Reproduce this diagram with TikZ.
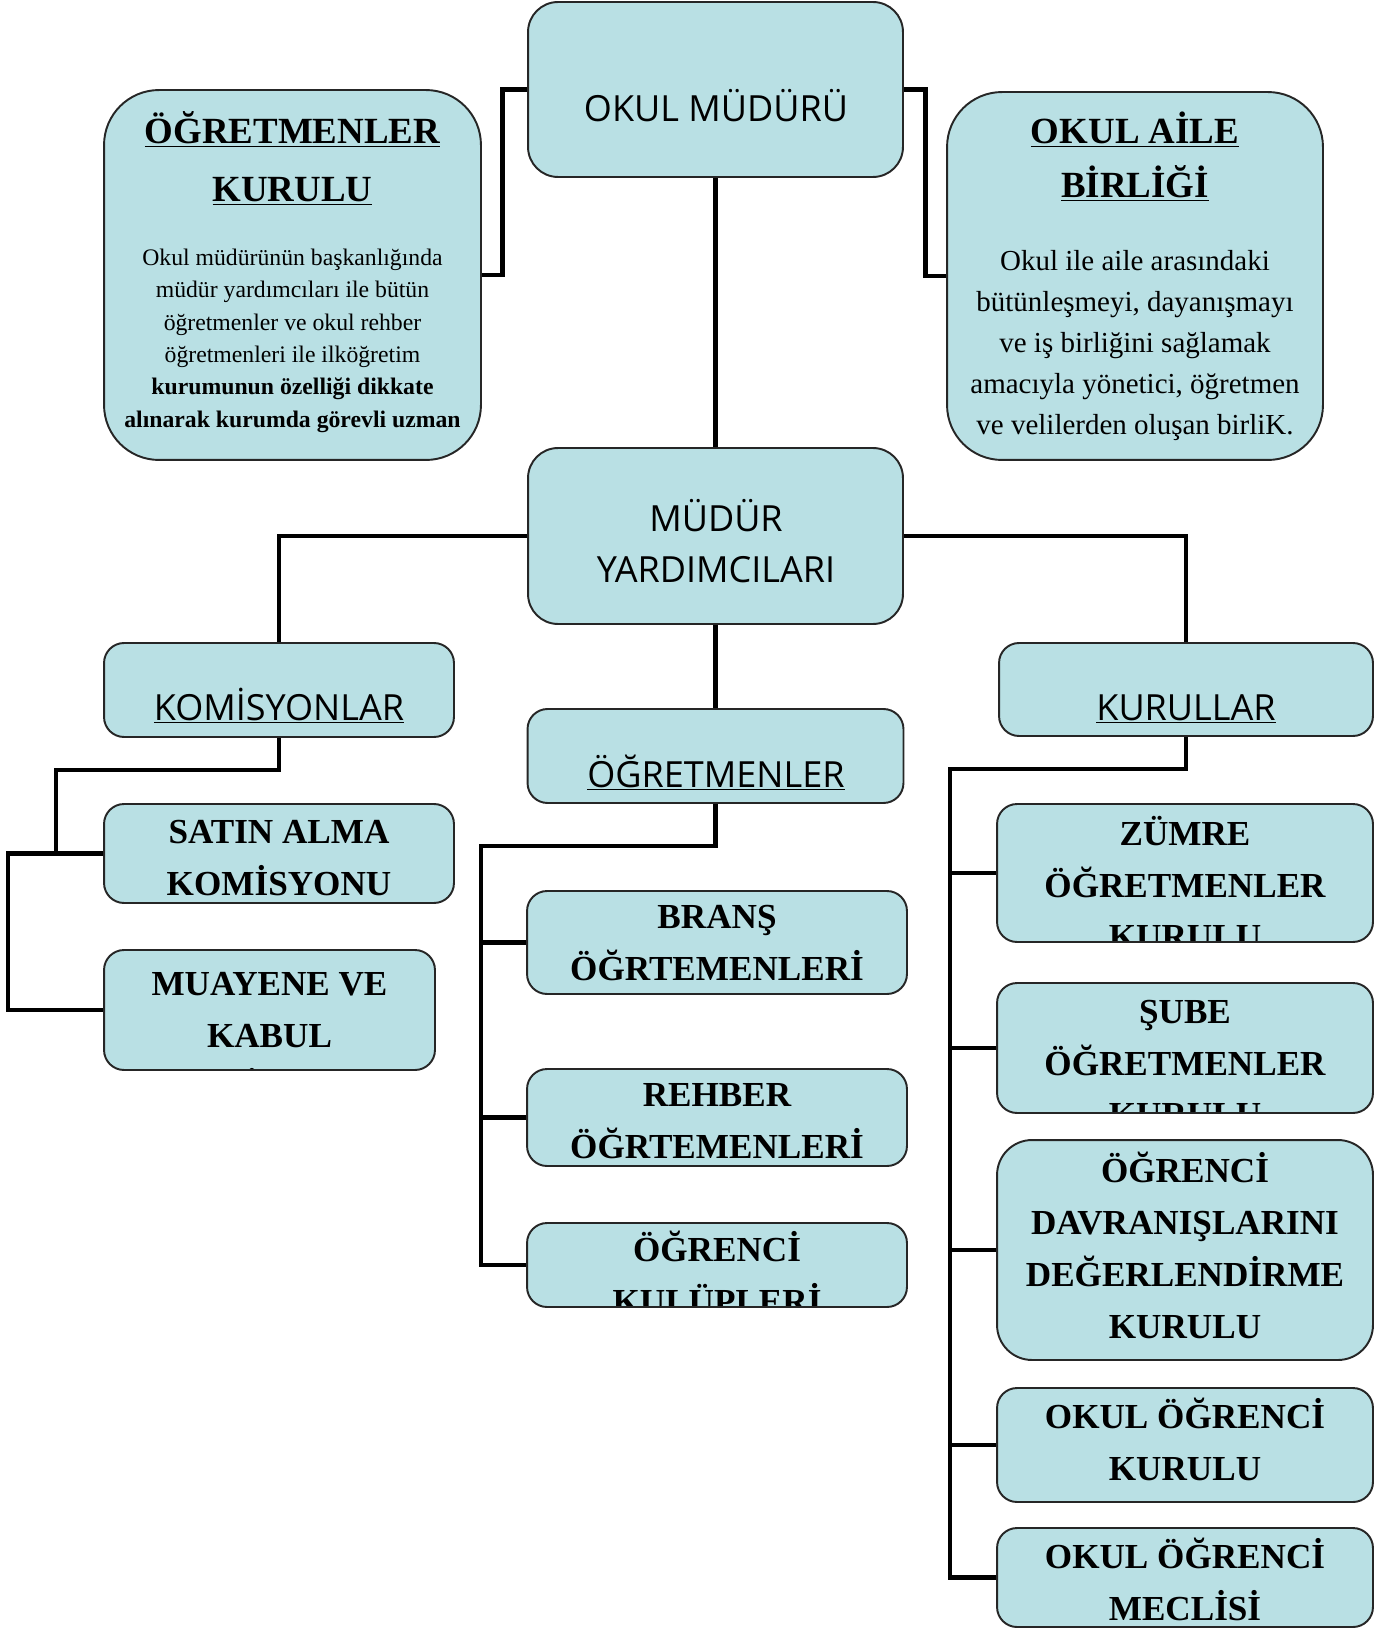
\documentclass[tikz,border=0pt]{standalone}
\usepackage{fontspec}
\setmainfont{Liberation Serif}
\newfontfamily\acikfont{Open Sans}
\definecolor{kutumavi}{RGB}{185,224,228}

\begin{document}
\begin{tikzpicture}[x=0.02cm, y=-0.02cm,
    kutu/.style={draw=black!85, fill=kutumavi, line width=1.1pt, inner sep=0pt, rounded corners=0.4cm},
    baglanti/.style={line width=2.8pt},
    ince/.style={font=\acikfont\fontsize{20.5}{29}\selectfont, align=center, inner sep=0pt, anchor=base},
    kalin/.style={font=\bfseries\fontsize{20}{29.5}\selectfont, align=center, inner sep=0pt, anchor=base}]
    \useasboundingbox (0,0) rectangle (1395,1628);

    % Top row (text nodes sit on the baseline of their last line)
    \node[kutu, rounded corners=0.6cm, minimum width=7.5cm, minimum height=3.5cm] (mudur) at (715.5,89.5) {};
    \node[ince] (mudur-t) at (716,122) {OKUL MÜDÜRÜ};

    \node[kutu, rounded corners=1.1cm, minimum width=7.54cm, minimum height=7.4cm] (ogrkurulu) at (292.5,275) {};
    \node[kalin, font=\bfseries\fontsize{21}{33.5}\selectfont] (ogrkurulu-t) at (292.5,202) {\underline{ÖĞRETMENLER}\\\underline{KURULU}};
    \node[anchor=base, align=center, inner sep=0pt, font=\fontsize{13.5}{18.4}\selectfont] (ogrkurulu-a) at (292.5,427)
        {Okul müdürünün başkanlığında\\müdür yardımcıları ile bütün\\öğretmenler ve okul rehber\\öğretmenleri ile ilköğretim\\
         \textbf{kurumunun özelliği dikkate}\\\textbf{alınarak kurumda görevli uzman}};

    \node[kutu, rounded corners=1.1cm, minimum width=7.52cm, minimum height=7.36cm] (aile) at (1135,276) {};
    \node[kalin, font=\bfseries\fontsize{21}{31.2}\selectfont] (aile-t) at (1135,198) {\underline{OKUL AİLE}\\\underline{BİRLİĞİ}};
    \node[anchor=base, align=center, inner sep=0pt, font=\fontsize{16.5}{23.4}\selectfont] (aile-a) at (1135,435)
        {Okul ile aile arasındaki\\bütünleşmeyi, dayanışmayı\\ve iş birliğini sağlamak\\amacıyla yönetici, öğretmen\\ve velilerden oluşan birliK.};

    % Middle row
    \node[kutu, rounded corners=0.6cm, minimum width=7.5cm, minimum height=3.52cm] (yardimci) at (715.5,536) {};
    \node[ince] (yardimci-t) at (716,582) {MÜDÜR\\YARDIMCILARI};

    \node[kutu, minimum width=7cm, minimum height=1.88cm] (komisyon) at (279,690) {};
    \node[ince] (komisyon-t) at (279,720) {\underline{KOMİSYONLAR}};

    \node[kutu, minimum width=7.52cm, minimum height=1.88cm] (ogretmen) at (715.5,756) {};
    \node[ince] (ogretmen-t) at (716,787) {\underline{ÖĞRETMENLER}};

    \node[kutu, minimum width=7.48cm, minimum height=1.86cm] (kurullar) at (1186,689.5) {};
    \node[ince] (kurullar-t) at (1186,720) {\underline{KURULLAR}};

    % Komisyonlar column
    \node[kutu, minimum width=7cm, minimum height=1.98cm] (satin) at (279,853.5) {};
    \node[kalin] (satin-t) at (279,895) {SATIN ALMA\\KOMİSYONU};

    \node[kutu, minimum width=6.62cm, minimum height=2.4cm,
        path picture={\node[kalin] (muayene-t) at ([yshift=-2.98cm]path picture bounding box.north) {MUAYENE VE\\KABUL\\KOMİSYONU};}] (muayene) at (269.5,1010) {};

    % Ogretmenler column
    \node[kutu, minimum width=7.6cm, minimum height=2.06cm] (brans) at (717,942.5) {};
    \node[kalin] (brans-t) at (717,980) {BRANŞ\\ÖĞRTEMENLERİ};

    \node[kutu, minimum width=7.6cm, minimum height=1.94cm] (rehber) at (717,1117.5) {};
    \node[kalin] (rehber-t) at (717,1158) {REHBER\\ÖĞRTEMENLERİ};

    \node[kutu, minimum width=7.6cm, minimum height=1.68cm,
        path picture={\node[kalin] (kulup-t) at ([yshift=-1.8cm]path picture bounding box.north) {ÖĞRENCİ\\KULÜPLERİ};}] (kulup) at (717,1265) {};

    % Kurullar column
    \node[kutu, minimum width=7.52cm, minimum height=2.76cm,
        path picture={\node[kalin] (zumre-t) at ([yshift=-2.9cm]path picture bounding box.north) {ZÜMRE\\ÖĞRETMENLER\\KURULU};}] (zumre) at (1185,873) {};

    \node[kutu, minimum width=7.52cm, minimum height=2.6cm,
        path picture={\node[kalin] (sube-t) at ([yshift=-2.88cm]path picture bounding box.north) {ŞUBE\\ÖĞRETMENLER\\KURULU};}] (sube) at (1185,1048) {};

    \node[kutu, rounded corners=0.7cm, minimum width=7.52cm, minimum height=4.4cm] (davranis) at (1185,1250) {};
    \node[kalin] (davranis-t) at (1185,1338) {ÖĞRENCİ\\DAVRANIŞLARINI\\DEĞERLENDİRME\\KURULU};

    \node[kutu, minimum width=7.52cm, minimum height=2.28cm] (okulkurul) at (1185,1445) {};
    \node[kalin] (okulkurul-t) at (1185,1480) {OKUL ÖĞRENCİ\\KURULU};

    \node[kutu, minimum width=7.52cm, minimum height=1.98cm] (meclis) at (1185,1577.5) {};
    \node[kalin] (meclis-t) at (1185,1620) {OKUL ÖĞRENCİ\\MECLİSİ};

    % Connectors
    \coordinate (ko-kol) at (56,770);
    \coordinate (ko-dis) at (8,1010);
    \coordinate (og-kol) at (481,846);
    \coordinate (ku-kol) at (950,769);

    \draw[baglanti] (mudur.west) -- ++(-25,0) |- (ogrkurulu.east);
    \draw[baglanti] (mudur.east) -- ++(22,0) |- (aile.west);
    \draw[baglanti] (mudur.south) -- (yardimci.north);
    \draw[baglanti] (yardimci.west) -| (komisyon.north);
    \draw[baglanti] (yardimci.east) -| (kurullar.north);
    \draw[baglanti] (yardimci.south) -- (ogretmen.north);

    \draw[baglanti] (komisyon.south) |- (ko-kol) |- (satin.west);
    \draw[baglanti] (satin.west) -| (ko-dis) |- (muayene.west);

    \draw[baglanti] (ogretmen.south) |- (og-kol) |- (kulup.west);
    \draw[baglanti] (og-kol |- brans.west) -- (brans.west);
    \draw[baglanti] (og-kol |- rehber.west) -- (rehber.west);

    \draw[baglanti] (kurullar.south) |- (ku-kol) |- (meclis.west);
    \draw[baglanti] (ku-kol |- zumre.west) -- (zumre.west);
    \draw[baglanti] (ku-kol |- sube.west) -- (sube.west);
    \draw[baglanti] (ku-kol |- davranis.west) -- (davranis.west);
    \draw[baglanti] (ku-kol |- okulkurul.west) -- (okulkurul.west);
\end{tikzpicture}
\end{document}
